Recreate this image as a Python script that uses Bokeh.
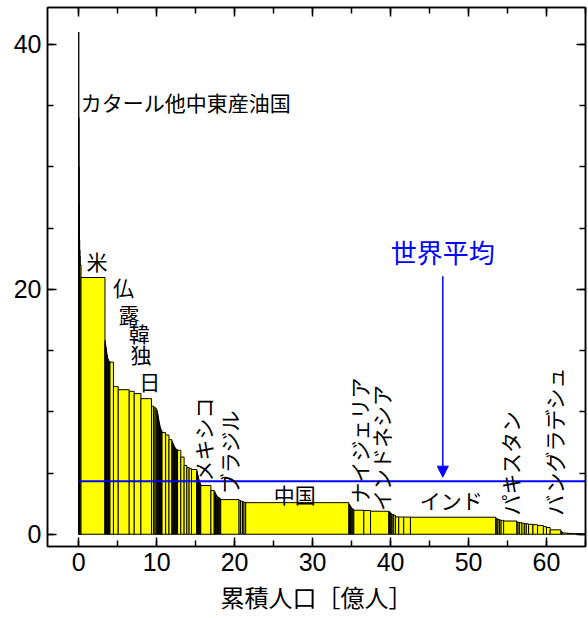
import numpy as np
from bokeh.plotting import figure
from bokeh.models import (ColumnDataSource, LinearAxis, SingleIntervalTicker,
                          Range1d, Arrow, NormalHead)
from bokeh.core.properties import value
from bokeh.embed import file_html
from bokeh.resources import INLINE

# population of each country [100 million], sorted by per-capita emission
pop = [0.010, 0.020, 0.020, 0.030, 0.020, 0.030, 0.020, 0.020, 0.130,
       3.07,
       0.05, 0.05, 0.04, 0.05, 0.04, 0.05, 0.04, 0.05, 0.06, 0.05, 0.04, 0.06, 0.06,
       0.45, 0.61, 1.41, 0.64, 0.86, 1.36,
       0.25, 0.20, 0.15, 0.12,
       0.06, 0.05, 0.06, 0.05, 0.06, 0.05, 0.06, 0.05, 0.06, 0.05, 0.08,
       0.46, 0.43, 0.37,
       0.07, 0.06, 0.07, 0.06, 0.07, 0.06, 0.07, 0.06, 0.07, 0.14,
       0.42, 0.42, 0.35, 0.29, 0.31, 0.68,
       0.05, 0.05, 0.05, 0.05, 0.05, 0.05, 0.05, 0.05, 0.05, 0.06,
       1.30, 0.42,
       0.08, 0.08, 0.08, 0.08, 0.10, 0.10, 0.10, 0.10, 0.12,
       2.35, 0.20, 0.23, 0.20, 0.22,
       13.23,
       0.10, 0.10, 0.10, 0.12, 0.12, 0.10,
       1.28, 0.86, 2.34,
       0.10, 0.10, 0.12, 0.12, 0.20, 0.22,
       0.42, 0.64, 0.86,
       10.93,
       0.15, 0.15, 0.20, 0.20, 0.32,
       1.70,
       0.15, 0.20, 0.30, 0.30, 0.25, 0.30,
       0.56, 0.59, 0.75,
       0.40, 0.47,
       1.37,
       0.10, 0.16,
       0.60, 0.80, 0.90, 0.60]

# per-capita emission of each country
per_capita = [41.0, 34.0, 30.0, 27.0, 25.0, 24.0, 23.2, 22.7, 22.0,
              20.96,
              15.8, 15.5, 15.3, 15.1, 14.9, 14.7, 14.5, 14.4, 14.3, 14.2, 14.15, 14.1, 14.08,
              14.05, 12.05, 11.8, 11.67, 11.48, 11.07,
              10.45, 10.38, 10.3, 10.15,
              10.0, 9.8, 9.6, 9.4, 9.2, 9.0, 8.85, 8.7, 8.6, 8.5, 8.45,
              8.3, 8.1, 7.72,
              7.6, 7.5, 7.4, 7.3, 7.2, 7.1, 7.05, 7.0, 6.95, 6.9,
              6.85, 6.3, 5.62, 5.45, 5.35, 5.28,
              5.15, 5.0, 4.85, 4.7, 4.55, 4.45, 4.35, 4.25, 4.18, 4.1,
              3.98, 3.57,
              3.5, 3.4, 3.3, 3.2, 3.1, 3.05, 3.0, 2.95, 2.9,
              2.83, 2.76, 2.7, 2.65, 2.6,
              2.58,
              2.45, 2.35, 2.25, 2.15, 2.08, 2.02,
              1.96, 1.94, 1.88,
              1.85, 1.8, 1.72, 1.65, 1.6, 1.55,
              1.42, 1.41, 1.40,
              1.39,
              1.3, 1.25, 1.2, 1.16, 1.13,
              1.08,
              1.0, 0.97, 0.94, 0.9, 0.87, 0.85,
              0.81, 0.78, 0.71,
              0.62, 0.55,
              0.36,
              0.25, 0.15,
              0.1, 0.07, 0.05, 0.03]

world_avg = 4.33

x_ticks_interval = 10
y_ticks_interval = 20

# horizontal labels
h_labels = ["カタール他中東産油国", "米", "仏", "露", "韓", "独", "日", "中国", "インド"]
h_x = [13.74, 2.34, 5.74, 6.44, 7.76, 7.98, 9.1, 27.72, 47.77]
h_y = [35.3, 22.3, 20.15, 18.0, 16.45, 14.7, 12.5, 3.3, 2.76]

# rotated labels
r_labels = ["メキシコ", "ブラジル", "ナイジェリア", "インドネシア", "パキスタン", "バングラデシュ"]
r_x = [15.98, 19.33, 35.93, 38.77, 55.35, 60.9]
r_y = [7.74, 6.7, 7.66, 7.05, 5.82, 7.52]

avg_label = "世界平均"
avg_label_x = 46.7
avg_label_y = 23.06
arrow_y_start = 21.07
arrow_y_end = 4.66

pop_arr = np.array(pop)
right = np.cumsum(pop_arr)
left = right - pop_arr

src = ColumnDataSource(dict(left=left, right=right,
                            bottom=np.zeros_like(pop_arr), top=np.array(per_capita)))

p = figure(width=588, height=618, x_range=Range1d(-4, 65), y_range=Range1d(-1, 43),
           output_backend="svg", toolbar_location=None,
           min_border_left=47, min_border_right=3, min_border_top=7, min_border_bottom=72,
           x_axis_label="累積人口［億人］")

p.quad(left="left", right="right", bottom="bottom", top="top", source=src,
       fill_color="#FFFF00", line_color="black", line_width=1)

p.line(x=[0, right[-1]], y=[world_avg, world_avg], line_color="#0000FF", line_width=2)

p.add_layout(Arrow(end=NormalHead(size=11, fill_color="#0000FF", line_color="#0000FF"),
                   x_start=avg_label_x, y_start=arrow_y_start,
                   x_end=avg_label_x, y_end=arrow_y_end,
                   line_color="#0000FF", line_width=1.5))

p.text(x=[avg_label_x], y=[avg_label_y], text=[avg_label], text_color="#0000FF",
       text_font=value("Noto Sans CJK JP"), text_font_size="26px",
       text_align="center", text_baseline="middle")

hsrc = ColumnDataSource(dict(x=h_x, y=h_y, text=h_labels))
p.text(x="x", y="y", text="text", source=hsrc, text_color="black",
       text_font=value("Noto Sans CJK JP"), text_font_size="21px",
       text_align="center", text_baseline="middle")

rsrc = ColumnDataSource(dict(x=r_x, y=r_y, text=r_labels))
p.text(x="x", y="y", text="text", source=rsrc, text_color="black", angle=np.pi / 2,
       text_font=value("Noto Sans CJK JP"), text_font_size="21px",
       text_align="center", text_baseline="middle")

p.xgrid.visible = False
p.ygrid.visible = False
p.outline_line_color = "black"
p.outline_line_width = 1.5

xt = SingleIntervalTicker(interval=x_ticks_interval, num_minor_ticks=2)
yt = SingleIntervalTicker(interval=y_ticks_interval, num_minor_ticks=4)

def style(ax, labels=True):
    ax.axis_line_color = "black"
    ax.axis_line_width = 1.5
    ax.major_tick_in = 9
    ax.major_tick_out = 0
    ax.minor_tick_in = 6
    ax.minor_tick_out = 0
    ax.major_tick_line_width = 1.5
    ax.minor_tick_line_width = 1.5
    ax.major_tick_line_color = "black"
    ax.minor_tick_line_color = "black"
    if labels:
        ax.major_label_text_font = "Liberation Sans"
        ax.major_label_text_font_size = "25px"
        ax.major_label_text_color = "black"
        ax.major_label_standoff = 6
    else:
        ax.major_label_text_font_size = "1px"
        ax.major_label_text_color = None
        ax.major_label_standoff = 0

p.xaxis.ticker = xt
p.yaxis.ticker = yt
style(p.xaxis[0])
style(p.yaxis[0])
p.xaxis.axis_label_text_font = "Noto Sans CJK JP"
p.xaxis.axis_label_text_font_size = "24px"
p.xaxis.axis_label_text_font_style = "normal"
p.xaxis.axis_label_text_color = "black"
p.xaxis.axis_label_standoff = 5

top_ax = LinearAxis(ticker=SingleIntervalTicker(interval=x_ticks_interval, num_minor_ticks=2))
style(top_ax, labels=False)
p.add_layout(top_ax, "above")
right_ax = LinearAxis(ticker=SingleIntervalTicker(interval=y_ticks_interval, num_minor_ticks=4))
style(right_ax, labels=False)
p.add_layout(right_ax, "right")

open("out.html", "w").write(file_html(p, INLINE))
